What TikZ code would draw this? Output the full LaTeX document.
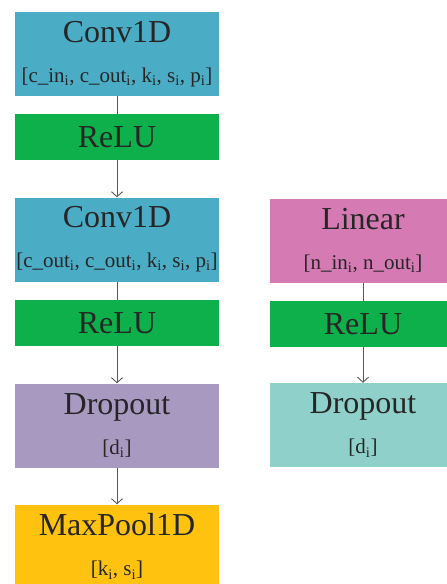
\documentclass[tikz,border=0pt]{standalone}
\usepackage{fontspec}
\setmainfont{Liberation Serif}
\usetikzlibrary{arrows.meta}

\definecolor{convblue}{HTML}{4BACC6}
\definecolor{relugreen}{HTML}{0DB04B}
\definecolor{droppurple}{HTML}{A899C1}
\definecolor{poolorange}{HTML}{FFC20E}
\definecolor{linpink}{HTML}{D57AB3}
\definecolor{dropteal}{HTML}{8FD1CA}
\definecolor{arrowgray}{HTML}{595959}

\newcommand{\params}[1]{{\fontsize{21}{24}\selectfont #1}}
\newcommand{\sbi}{\textsubscript{i}}

\begin{document}
\begin{tikzpicture}[x=1pt, y=-1pt]
  \tikzset{
    layer/.style={rectangle, inner sep=0pt, align=center, text=black!85,
      font=\fontsize{32}{38}\selectfont},
    big_node/.style={layer, minimum width=204pt, minimum height=84pt},
    small_node/.style={layer, minimum width=204pt, minimum height=46pt},
    conn/.style={draw=arrowgray, line width=0.9pt},
    arr/.style={conn, -{Straight Barb[length=5pt, width=11pt]}}
  }

  % Recorte de la figura
  \clip (0,0) rectangle (447,584);

  % Columna izquierda: bloque convolucional
  \node[big_node, fill=convblue] (conv_a) at (117,54)
    {Conv1D\\[2pt]\params{[c\_in\sbi, c\_out\sbi, k\sbi, s\sbi, p\sbi]}};
  \node[small_node, fill=relugreen] (relu_a) at (117,137) {ReLU};
  \node[big_node, fill=convblue] (conv_b) at (117,239.5)
    {Conv1D\\[2pt]\params{[c\_out\sbi, c\_out\sbi, k\sbi, s\sbi, p\sbi]}};
  \node[small_node, fill=relugreen] (relu_b) at (117,323) {ReLU};
  \node[big_node, fill=droppurple] (drop_a) at (117,425.5)
    {Dropout\\[2pt]\params{[d\sbi]}};
  \node[big_node, fill=poolorange] (pool) at (117,546.5)
    {MaxPool1D\\[2pt]\params{[k\sbi, s\sbi]}};

  % Columna derecha: bloque lineal
  \node[big_node, minimum width=186pt, fill=linpink] (lin) at (363,240.5)
    {Linear\\[2pt]\params{[n\_in\sbi, n\_out\sbi]}};
  \node[small_node, minimum width=186pt, fill=relugreen] (relu_c) at (363,324) {ReLU};
  \node[big_node, minimum width=186pt, fill=dropteal] (drop_b) at (363,425)
    {Dropout\\[2pt]\params{[d\sbi]}};

  % Conexiones
  \draw[conn] (conv_a) -- (relu_a);
  \draw[arr] (relu_a) -- (conv_b);
  \draw[conn] (conv_b) -- (relu_b);
  \draw[arr] (relu_b) -- (drop_a);
  \draw[arr] (drop_a) -- (pool);
  \draw[conn] (lin) -- (relu_c);
  \draw[arr] (relu_c) -- (drop_b);
\end{tikzpicture}
\end{document}
